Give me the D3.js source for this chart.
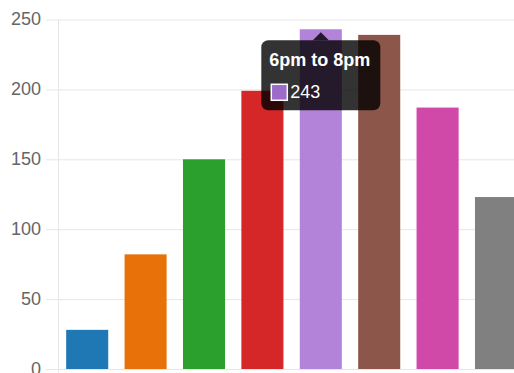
<!DOCTYPE html>
<html>
<head>
<meta charset="utf-8">
<script src="https://cdn.jsdelivr.net/npm/d3@7"></script>
<style>
  html, body { margin: 0; padding: 0; background: #fff; overflow: hidden; }
  svg { display: block; font-family: "Liberation Sans", Arial, Helvetica, sans-serif; }
</style>
</head>
<body>
<svg id="chart" width="514" height="373"></svg>
<script>
// Visits per two-hour time slot
const categories = ["10am to 12pm", "12pm to 2pm", "2pm to 4pm", "4pm to 6pm",
                    "6pm to 8pm", "8pm to 10pm", "10pm to 12am", "12am to 2am"];
const values = [28, 82, 150, 199, 243, 239, 187, 123];
const barColors = ["#1f77b4", "#e8710a", "#2ca02c", "#d62728",
                   "#b283d8", "#8c564b", "#d048a8", "#808080"];
const yTicks = [0, 50, 100, 150, 200, 250];
const activeIndex = 4;           // slot with the open tooltip
const activeSwatch = "#9d6cc9";

const W = 514, H = 373;
const plotLeft = 58, plotTop = 19.5, plotBottom = 369;
const step = 58.4;

const svg = d3.select("#chart");

const x = d3.scaleBand()
  .domain(categories)
  .range([plotLeft, plotLeft + step * categories.length])
  .paddingInner(0.28)
  .paddingOuter(0.14);

const y = d3.scaleLinear().domain([0, 250]).range([plotBottom, plotTop]);

// horizontal grid + y tick labels
const yAxis = d3.axisLeft(y)
  .tickValues(yTicks)
  .tickSizeInner(-(W - 46))
  .tickSizeOuter(0)
  .tickPadding(5);

const gy = svg.append("g")
  .attr("transform", "translate(46,0)")
  .call(yAxis);
gy.select(".domain").remove();
gy.selectAll(".tick line").attr("stroke", "#e6e6e6").attr("stroke-width", 1);
gy.selectAll(".tick text")
  .attr("fill", "#666")
  .attr("font-size", 18)
  .attr("dy", "0.28em");

// y axis border line
svg.append("line")
  .attr("x1", plotLeft + 0.5).attr("x2", plotLeft + 0.5)
  .attr("y1", y(250)).attr("y2", H)
  .attr("stroke", "#e6e6e6");

// bars
svg.append("g").selectAll("rect")
  .data(values)
  .join("rect")
  .attr("x", (d, i) => x(categories[i]))
  .attr("width", x.bandwidth())
  .attr("y", d => y(d))
  .attr("height", d => y(0) - y(d))
  .attr("fill", (d, i) => barColors[i]);

// tooltip for the active slot
const cx = x(categories[activeIndex]) + x.bandwidth() / 2;
const tipY = y(values[activeIndex]) + 3;
const caret = 8;
const boxW = 119, boxH = 70;
const bx = cx - boxW / 2, by = tipY + caret;

const tip = svg.append("g");
tip.append("rect")
  .attr("x", bx).attr("y", by)
  .attr("width", boxW).attr("height", boxH)
  .attr("rx", 7)
  .attr("fill", "rgba(0,0,0,0.8)");
tip.append("path")
  .attr("d", `M${cx - caret},${by} L${cx},${tipY} L${cx + caret},${by} Z`)
  .attr("fill", "rgba(0,0,0,0.8)");
tip.append("text")
  .attr("x", bx + 8).attr("y", by + 26)
  .attr("fill", "#fff")
  .attr("font-size", 18)
  .attr("font-weight", "bold")
  .text(categories[activeIndex].replace(/^(\S+) to (\S+)$/, "$1 to $2"));
tip.append("rect")
  .attr("x", bx + 10).attr("y", by + 44)
  .attr("width", 16).attr("height", 16)
  .attr("fill", activeSwatch)
  .attr("stroke", "#fff")
  .attr("stroke-width", 1.5);
tip.append("text")
  .attr("x", bx + 29).attr("y", by + 58)
  .attr("fill", "#fff")
  .attr("font-size", 18)
  .text(values[activeIndex]);
</script>
</body>
</html>
